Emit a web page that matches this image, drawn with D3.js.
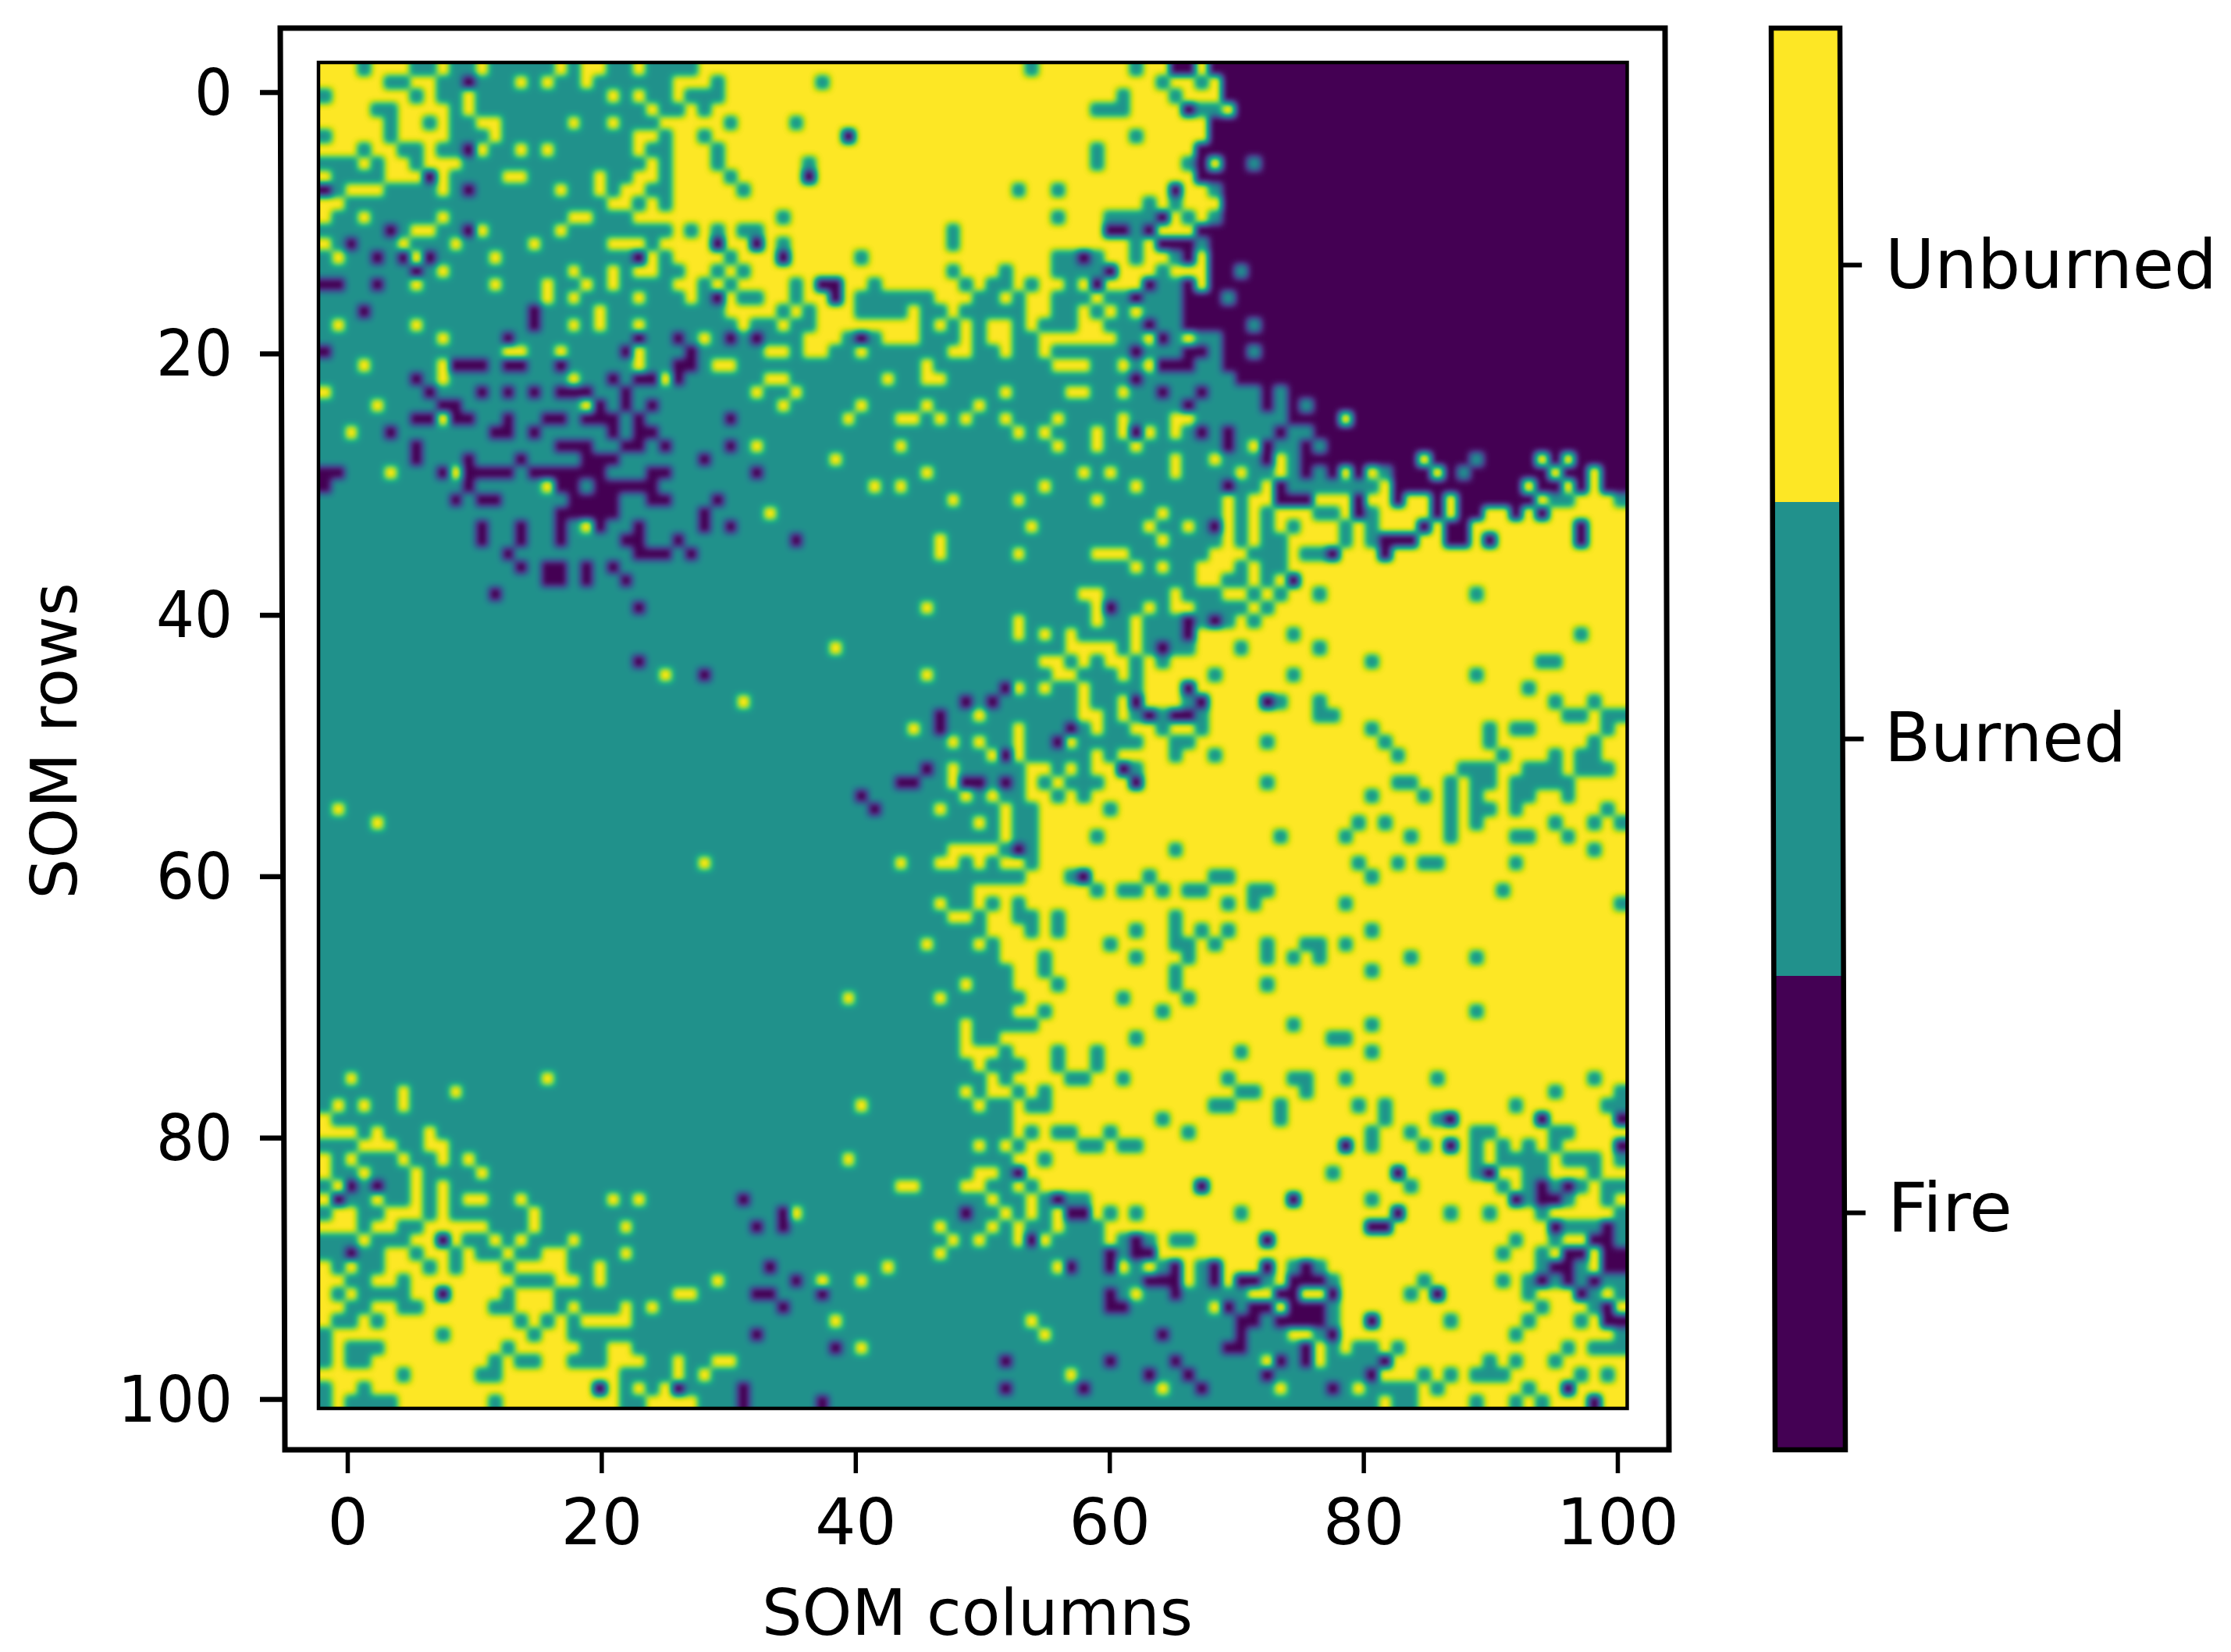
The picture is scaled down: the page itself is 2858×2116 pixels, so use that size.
<!DOCTYPE html>
<html>
<head>
<meta charset="utf-8">
<script src="https://cdn.jsdelivr.net/npm/d3@7"></script>
<style>
html,body{margin:0;padding:0;background:#fff}
svg{display:block}
text{font-family:"DejaVu Sans",sans-serif;fill:#000}
</style>
</head>
<body>
<svg id="chart" width="2858" height="2116"></svg>
<script>
// Class names, low to high
const classLabels = ["Fire", "Burned", "Unburned"];
const xTicks = [0, 20, 40, 60, 80, 100];
const yTicks = [0, 20, 40, 60, 80, 100];
const xTitle = "SOM columns";
const yTitle = "SOM rows";

// One entry per SOM row. Every cell is "Burned" (T) unless listed:
// letter = class (Y Unburned, T Burned, F Fire), numbers = columns, applied left to right.
const somRows = [
"Y0-2,4-6,9,12,18,20-21,24,29-53,55-61,63-64,67 F65-66,68-99",
"Y0-4,7-8,15,17,20,27-29,31-63 T38 Y65-66,68 F11,69-99",
"Y1-6,8,11,22,24,27,31-64,66-68 T61 F69-99",
"Y0-3,6-9,11,25,28,30-65,69 T59-61 F66,70-99",
"Y0-4,6-7,9,12-13,19,22,26-67 T31,36 F68-99",
"Y1-4,6-9,13,24-25,27-28,30-67 T62 F40,68-99",
"Y0-2,4-5,8,12,15,17,24,27-29,31-66 T59 F11,67-99",
"Y3,5-6,8-10,25,27-29,31-65,68 T37,59 F67,69-70,72-99",
"Y0,5-7,9,14-15,21,24-25,27-30,32-66 F8,37,67-99",
"Y2-4,9,18,21,23-24,27-31,33-64,66-67 T53,56 F0,11,65,69-99",
"Y0-1,22-23,25,27-62,64,66-68 F69-99",
"Y0,3,9,19-20,24-34,36-59,65,67 T56 F64,69-99",
"Y7-8,12,18,27,29,31,34-59,64-66 T48 F5,11,60-61,63,67-99",
"Y0,6,10,16,22-24,26-29,31-32,34,36-61,63 T48 F2,30,33,64-66,68-99",
"Y1,7,13,25,27-30,32-34,36-40,42-55,60-61,63-64,67 F4,6,8,24,35,58,66,68-99",
"Y9,19,22,24-25,28-29,31,33-47,49-51,53-55,61-63,65-67 F7,60,68-69,71-99",
"Y7,13,17,20,22,27-28,30,32-35,37,40-41,43-48,50,53,55-56,58,60-62,67 F0-1,4,38-39,59,63,66,68-99",
"Y17,19,24,28,31,34-35,37-38,40,47-49,52,54-55,59 F30,39,62,66-68,70-99",
"Y21,31-34,36,38-40,45,48,54-55,58,60,62 F3,16,66-99",
"Y1,7,19,21,24,32,35,38-45,47,49,51-52,54,58-59 F16,63,66-70,72-99",
"Y9,29,37-39,43-45,49,51-52,55-60,63,66 F14,24,27,31,33,41,64,69-99",
"Y14-15,18,24,34-35,37-38,41,48-49,52,55 F0,23,28,62,66-67,69-70,72-99",
"Y3,9,24,30-31,46,56-58,61,63 F10-12,14-15,18,27-28,64-66,69-99",
"Y9,19,26,34-35,43,46-47 F7,22,24-25,27,62,70-99",
"Y0,33,36,52,57-58,61 F8,12,14,16,18-20,23,64,67,72,74-99",
"Y4,20,35,41,46,50 F9-10,21,23,25,66,72,74,76-99",
"Y9,40,44-45,47,49,52,56,61,65-66,78 F7-8,10-11,14,17-18,20-22,24,31,74-77,79-99",
"Y2,53,55,59,61,63,65 F5,13-14,16,22,24-25,62,67,69,73,76-99",
"Y33,44,56,59,62,71 F7,18-20,23-24,26,31,69,72,75,77-99",
"Y39,65,68,73,84,93,95 F7,11,15,20-22,29,72,75-83,85-87,89-92,94,96-99",
"Y5,10,46,58,60,65,70,73,78,80,85,94,97 F0-1,9,11-14,16-21,25-26,33,75,77,79,82-84,86,88-93,95-96,98-99",
"Y17,42,44,55,62,72,81,92,95,97 F0,11,18-19,21-25,69,73,82-91,93-94,96,98-99",
"Y48,53,59,69,71-72,76-78,80-81,83-84,86,93,96-98 F10,12-13,19-22,25-26,30,73-75,79,82,85,87-92",
"Y34,64,69,71,73-75,78,81-84,86,89-90,92,94-99 F18-22,29,79,85,87-88,91,93",
"Y20,54,63,66,69,71,73,75-77,79,81-83,85,88-95,97-99 F12,15,18,21,24,29,31,68,84,86-87,96",
"Y47,64,69,71,74-77,79,84-85,88,90-95,97-99 F12,15,18,23-24,27,36,81-83,86-87,89,96",
"Y47,53,59-61,68-70,74,78-80,82-99 F14,24-26,28,77,81",
"Y62,64,67-69,71,74-99 F15,17-18,20,22",
"Y67-68,71,73,75-99 F17-18,20,23,74",
"Y58-59,65,69-70,72,74-99 T76,88 F13",
"Y46,59,63,65-66,71,73-99 F24,60",
"Y53,59,62,70,72-99 F66,68",
"Y53,55,57,62,67-99 T74,96 F66",
"Y39,57-60,62,67-99 T70,76 F64",
"Y55-56,58,60-61,63,65-99 T80,93-94 F24",
"Y26,46,56-57,61,63-99 T68,74,88 F29",
"Y53,55,58,63-99 T92 F52,66",
"Y32,58,61,63-65,68-99 T73,76,94,97 F49,51,62,67,72",
"Y50,58-59,61,68-99 T76-77,95-96,98-99 F47,63,65-66",
"Y45,53,59,62-63,65-66,68-99 T80,89,91-92,98 F47,57",
"Y48,50,53,57,63-64,67-99 T72,81,89,97 F56",
"Y51,53,59,61-99 T65,68,82,90,94,96-97 F52",
"Y48,54-55,57,59-60,63-99 T87-89,92-94,96-98 F46,61",
"Y48,54,56,60-61,63-99 T72,82-83,86,88-89,91-95 F44-45,49-50,52,62",
"Y49,51,54-55,57,59-99 T80,84,86,88,91-92,95 F41",
"Y1,47,52,55-99 T60,86,88-89,91,98 F42",
"Y4,50,52,55-99 T79,81,86,88,94,97,99",
"Y52,55-99 T59,73,78,83,86,91-92,95",
"Y48-51,55-99 T65,97 F53",
"Y29,44,47-48,50,52-53,55-99 T79,82,84-85,91",
"Y54-99 T57,63,68-69,80 F58",
"Y50-99 T59,61-62,64,66-67,71-72,90",
"Y47,50,52,54-99 T69,71,78,99",
"Y48-49,51-52,55-99 T56,65",
"Y51-53,55,57-99 T62,65,67,69,80",
"Y46,50,52-99 T60,65-66,68,72,75-76,78",
"Y52-99 T55,62,66,72,74,76,83,88",
"Y53-99 T55,65,80",
"Y49,53-99 T56,65,72",
"Y40,47,54-99 T61,66",
"Y53-54,56-99 T64,88",
"Y49,55-99 T74,80",
"Y49,52-99 T62,77-78",
"Y49-51,53-99 T56,59,70,80",
"Y50,54-55,57-58,60-99",
"Y2,17,51,53-99 T57-58,61,69,74-75,78,85,97",
"Y6,10,49,51-52,54,56-99 T70-71,75,94,99",
"Y1,3,6,41,50,53,56-99 T68-69,73,79,81,91,98-99",
"Y0,53-99 T64,73,81,85 F86,93,99",
"Y0-2,4,8,53-99 T54,56-57,60,66,80,83,88-89,94-95",
"Y3-5,8-9,50,52,54-99 T58-59,61-62,80,84,88,90,92,94 F78,86,99",
"Y0,2,6,9,11,40,53-99 T55,88,90-93,95-97,99",
"Y0,3,7,12,50-51,54-99 T77,88,92-93,97 F53,82,89",
"Y1,7,9,44-45,49-50,53,55-99 T83,90,92,94,96,98-99 F2,4,67,93,95",
"Y0,4,7,9,11-12,15,22,24,51,54,59-99 T80,92,95,98 F1,32,56,74,91,93-94",
"Y1-2,5-7,9,16,36,52,54,56,59-99 T60,62,70,86,89,93,99 F35,49,57-58,82",
"Y0-2,4-5,8-12,16,23,47,51,53,56,60-99 T95-97,99 F33,35,80-81,94,98",
"Y3,7-8,10,13,15,19,48,50,53,55,60,64,67-99 T91,94,99 F9,54,62,72,97-98",
"Y5-6,8-9,11,14,17-18,23,47,64-99 T90,93 F2,60,62-63,95-96,98-99",
"Y0,2,5-7,9,11-13,15-18,21,43,56,61,63,66,69-71,73,77-99 T93,96 F34,57,60,65,68,72,75,94-95,98-99",
"Y0-1,4-5,7-14,18-19,21,30,38,41,66,69,73,78-99 T84,90,92,94,96,98-99 F36,63-65,68,70-71,74-76,93,95,97",
"Y0,2,7-8,10-13,15-17,27-28,62,71-72,75-76,78-99 T83,92,97,99 F9,33-34,38,60,65,73-74,77,85,96",
"Y0-1,4-5,8-12,15-17,19,23,25,68,73,78-99 T93,97 F35,60-61,69,71-72,74-76,98",
"Y0,3,5-14,16,18,20-23,39,54,78-99 T86,92,96 F70-71,73-76,80,98-99",
"Y1-8,10-15,17-18,55,74-75,78-99 T91,99 F33,64,70,77",
"Y1,5-13,15-19,22-23,41,76,78,81,83-99 T95,97-99 F39,69-70,75",
"Y1,4-12,14,17-18,22-24,27,30-31,72,76,82-99 T89,91,94 F52,60,65,73,75,81",
"Y0-5,7-11,14-22,27,29,57,81-99 T84,86,88-90,96,98 F63,66,72,80",
"Y1-2,4-20,22,24,26,64,73,79,84-99 T85,92 F21,27,32,52,58,67,77,95",
"Y1,6-12,14-22,25-28,81,84-99 T88,91,93 F32,38,97"
];

// Expand the row notes to a cell list
const letterClass = {F: 0, T: 1, Y: 2};
const cells = [];
somRows.forEach((spec, r) => {
  const row = new Array(100).fill(1);
  spec.split(" ").forEach(tok => {
    const k = letterClass[tok[0]];
    tok.slice(1).split(",").forEach(part => {
      const [a, b] = part.split("-").map(Number);
      for (let c = a; c <= (b === undefined ? a : b); c++) row[c] = k;
    });
  });
  row.forEach((v, c) => cells.push({r, c, v}));
});

const svg = d3.select("#chart");
const idx = d3.range(100);

// Frame geometry (the reference frames lean very slightly)
const imgL = 408, imgR = 2084.5, imgT = 80, imgB = 1804;
const axT = 36, axB = 1857;

const col = d3.scaleBand().domain(idx).range([imgL, imgR]);
const row = d3.scaleBand().domain(idx).range([imgT, imgB]);
const grey = d3.scaleLinear().domain([0, 2]).range([0, 1]);
const xTickScale = d3.scaleLinear().domain([0, 100]).range([445, 2072]);
const yTickScale = d3.scaleLinear().domain([0, 100]).range([118, 1792]);

// Viridis lookup applied after smoothing, so transitions run through the colormap
const defs = svg.append("defs");
const table = fn => d3.range(0, 1.0001, 1 / 32).map(t => {
  const c = d3.rgb(d3.interpolateViridis(t));
  return (fn(c) / 255).toFixed(4);
}).join(" ");
const f = defs.append("filter").attr("id", "smooth")
  .attr("filterUnits", "userSpaceOnUse")
  .attr("x", imgL - 40).attr("y", imgT - 40)
  .attr("width", imgR - imgL + 80).attr("height", imgB - imgT + 80)
  .attr("color-interpolation-filters", "sRGB");
f.append("feGaussianBlur").attr("stdDeviation", 4.5);
const ct = f.append("feComponentTransfer");
ct.append("feFuncR").attr("type", "table").attr("tableValues", table(c => c.r));
ct.append("feFuncG").attr("type", "table").attr("tableValues", table(c => c.g));
ct.append("feFuncB").attr("type", "table").attr("tableValues", table(c => c.b));
defs.append("clipPath").attr("id", "imgClip").append("rect")
  .attr("x", imgL).attr("y", imgT).attr("width", imgR - imgL).attr("height", imgB - imgT);

// Heat map cells: outer cells overhang so the smoothing does not fade at the border
const over = 16;
const gClip = svg.append("g").attr("clip-path", "url(#imgClip)");
const gCells = gClip.append("g").attr("filter", "url(#smooth)").attr("shape-rendering", "crispEdges");
gCells.selectAll("rect").data(cells).join("rect")
  .attr("x", d => col(d.c) - (d.c === 0 ? over : 0))
  .attr("y", d => row(d.r) - (d.r === 0 ? over : 0))
  .attr("width", d => col.bandwidth() + (d.c === 0 || d.c === 99 ? over : 0) + 0.5)
  .attr("height", d => row.bandwidth() + (d.r === 0 || d.r === 99 ? over : 0) + 0.5)
  .attr("fill", d => { const g = Math.round(grey(d.v) * 255); return `rgb(${g},${g},${g})`; });

svg.append("rect").attr("x", imgL).attr("y", imgT)
  .attr("width", imgR - imgL).attr("height", imgB - imgT)
  .attr("fill", "none").attr("stroke", "#000").attr("stroke-width", 4.5);

// Axes frame
svg.append("path")
  .attr("d", d3.line()([[359, axT], [2133, axT], [2138, axB], [365, axB]]) + "Z")
  .attr("fill", "none").attr("stroke", "#000").attr("stroke-width", 7);

const fontTick = 82;
const gx = svg.append("g").attr("transform", `translate(0,${axB + 3})`)
  .call(d3.axisBottom(xTickScale).tickValues(xTicks).tickSize(27).tickSizeOuter(0));
gx.select(".domain").remove();
gx.selectAll("line").attr("stroke", "#000").attr("stroke-width", 5.5);
gx.selectAll("text").attr("y", 118).attr("dy", 0).attr("font-size", fontTick).attr("text-anchor", "middle");

const gy = svg.append("g").attr("transform", `translate(362,0)`)
  .call(d3.axisLeft(yTickScale).tickValues(yTicks).tickSize(29).tickSizeOuter(0));
gy.select(".domain").remove();
gy.selectAll("line").attr("stroke", "#000").attr("stroke-width", 6.5);
gy.selectAll("text").attr("x", 0).attr("dy", 28).attr("font-size", fontTick).attr("text-anchor", "end")
  .attr("transform", "translate(-64,0) scale(0.94,1)");

svg.append("text").attr("x", 1252).attr("y", 2094).attr("text-anchor", "middle")
  .attr("font-size", fontTick).attr("textLength", 552).attr("lengthAdjust", "spacingAndGlyphs").text(xTitle);
svg.append("text").attr("transform", "translate(98,949) rotate(-90)").attr("text-anchor", "middle")
  .attr("font-size", fontTick).text(yTitle);

// Colour bar
const cbLeft = d3.scaleLinear().domain([axT, axB]).range([2269, 2274]);
const cbRight = d3.scaleLinear().domain([axT, axB]).range([2357, 2364]);
const cbY = d3.scaleLinear().domain([0, 3]).range([1857, 36]);
const cbColor = d3.scaleOrdinal().domain(classLabels.map((_, i) => i))
  .range(["#440154", "#21918c", "#fde725"]);
const quad = (y0, y1) => d3.line()([[cbLeft(y0), y0], [cbRight(y0), y0], [cbRight(y1), y1], [cbLeft(y1), y1]]) + "Z";
classLabels.forEach((_, i) => {
  svg.append("path").attr("d", quad(cbY(i + 1), cbY(i))).attr("fill", cbColor(i));
});
svg.append("path").attr("d", quad(axT, axB)).attr("fill", "none").attr("stroke", "#000").attr("stroke-width", 6.5);

const cbLabelOffset = [23, 28, 29];
const cbLabelLength = [160, 310, 425];
const cbLabelX = [2418, 2414, 2415];
classLabels.forEach((name, i) => {
  const y = cbY(i + 0.5);
  const xr = cbRight(y);
  svg.append("line").attr("x1", xr).attr("x2", xr + 27).attr("y1", y).attr("y2", y)
    .attr("stroke", "#000").attr("stroke-width", 6);
  svg.append("text").attr("x", cbLabelX[i]).attr("y", y + cbLabelOffset[i])
    .attr("font-size", 87).attr("textLength", cbLabelLength[i]).attr("lengthAdjust", "spacingAndGlyphs").text(name);
});
</script>
</body>
</html>
